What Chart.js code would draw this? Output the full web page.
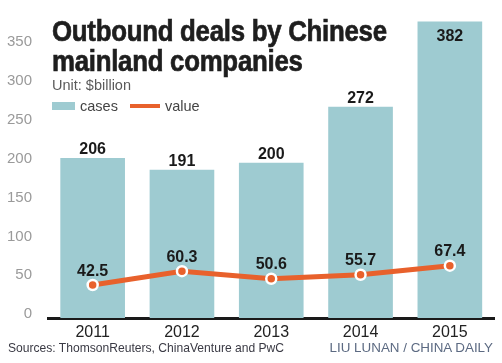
<!DOCTYPE html>
<html>
<head>
<meta charset="utf-8">
<script src="https://cdn.jsdelivr.net/npm/chart.js@4/dist/chart.umd.min.js"></script>
<style>
  html,body{margin:0;padding:0;background:#fff;}
  #wrap{position:relative;width:502px;height:363px;overflow:hidden;}
  canvas{position:absolute;left:0;top:0;}
  .ov{position:absolute;white-space:nowrap;font-family:"Liberation Sans",Arial,sans-serif;}
  #title{left:52px;top:16px;font-weight:bold;font-size:30px;line-height:30px;color:#1e1e1e;transform:scaleX(0.86);transform-origin:0 0;-webkit-text-stroke:0.7px #1e1e1e;letter-spacing:-0.3px;}
  #unit{left:52px;top:77px;font-size:14.5px;color:#5a5a5a;}
  #legend{left:52px;top:97px;font-size:14.5px;color:#444;}
  #legend span{display:inline-block;vertical-align:middle;}
  #src{left:8px;top:341px;font-size:12.1px;color:#3a3a44;}
  #credit{right:9px;top:340px;font-size:13.4px;color:#5c6a82;}
</style>
</head>
<body>
<div id="wrap">
  <canvas id="c" width="502" height="363"></canvas>
  <div class="ov" id="title">Outbound deals by Chinese<br>mainland companies</div>
  <div class="ov" id="unit">Unit: $billion</div>
  <div class="ov" id="legend"><span style="width:23px;height:8px;background:#9ecbd1;"></span><span style="margin-left:5px;">cases</span><span style="margin-left:12px;width:30px;height:4px;background:#e8612c;"></span><span style="margin-left:5px;">value</span></div>
  <div class="ov" id="src">Sources: ThomsonReuters, ChinaVenture and PwC</div>
  <div class="ov" id="credit">LIU LUNAN / CHINA DAILY</div>
</div>
<script>
const years = ["2011", "2012", "2013", "2014", "2015"];
const cases = [206, 191, 200, 272, 382];
const values = [42.5, 60.3, 50.6, 55.7, 67.4];
const yTicks = [0, 50, 100, 150, 200, 250, 300, 350];

const labelPlugin = {
  id: 'valueLabels',
  afterDatasetsDraw(chart) {
    const ctx = chart.ctx;
    ctx.save();
    ctx.font = 'bold 16px "Liberation Sans", Arial, sans-serif';
    ctx.fillStyle = '#1a1a1a';
    ctx.textAlign = 'center';
    ctx.textBaseline = 'alphabetic';
    const barMeta = chart.getDatasetMeta(0);
    barMeta.data.forEach((bar, i) => {
      const y = bar.y < 30 ? bar.y + 20 : bar.y - 4;
      ctx.fillText(String(cases[i]), bar.x, y);
    });
    const lineMeta = chart.getDatasetMeta(1);
    lineMeta.data.forEach((pt, i) => {
      ctx.fillText(values[i].toFixed(1), pt.x, pt.y - 9.5);
    });
    ctx.restore();
  }
};

new Chart(document.getElementById('c'), {
  data: {
    labels: years,
    datasets: [
      {
        type: 'bar',
        label: 'cases',
        data: cases,
        backgroundColor: '#9ecbd1',
        borderWidth: 0,
        barPercentage: 0.724,
        categoryPercentage: 1,
        order: 1
      },
      {
        type: 'line',
        label: 'value',
        data: values,
        borderColor: '#e8612c',
        borderWidth: 5,
        backgroundColor: '#e8612c',
        pointBackgroundColor: '#e8612c',
        pointBorderColor: '#ffffff',
        pointBorderWidth: 2.5,
        pointRadius: 5,
        tension: 0,
        order: 0
      }
    ]
  },
  options: {
    responsive: false,
    animation: false,
    devicePixelRatio: 1,
    layout: { padding: { left: 0, right: 6, top: 3, bottom: 0 } },
    plugins: { legend: { display: false }, tooltip: { enabled: false } },
    scales: {
      x: {
        z: 1,
        grid: { display: false, drawTicks: false },
        border: { display: true, color: '#1a1a1a', width: 3 },
        ticks: {
          padding: 5,
          color: '#222',
          font: { family: '"Liberation Sans", sans-serif', size: 16 }
        },
        afterFit(s) { s.height = 45; }
      },
      y: {
        min: 0,
        max: 400,
        grid: { display: false, drawTicks: false },
        border: { display: false },
        afterBuildTicks(s) { s.ticks = yTicks.map(v => ({ value: v })); },
        ticks: {
          padding: 16,
          labelOffset: -4,
          color: '#9a9a9a',
          font: { family: '"Liberation Sans", sans-serif', size: 15 }
        },
        afterFit(s) { s.width = 48; s.paddingTop = 0; s.paddingBottom = 0; }
      }
    }
  },
  plugins: [labelPlugin]
});
</script>
</body>
</html>
